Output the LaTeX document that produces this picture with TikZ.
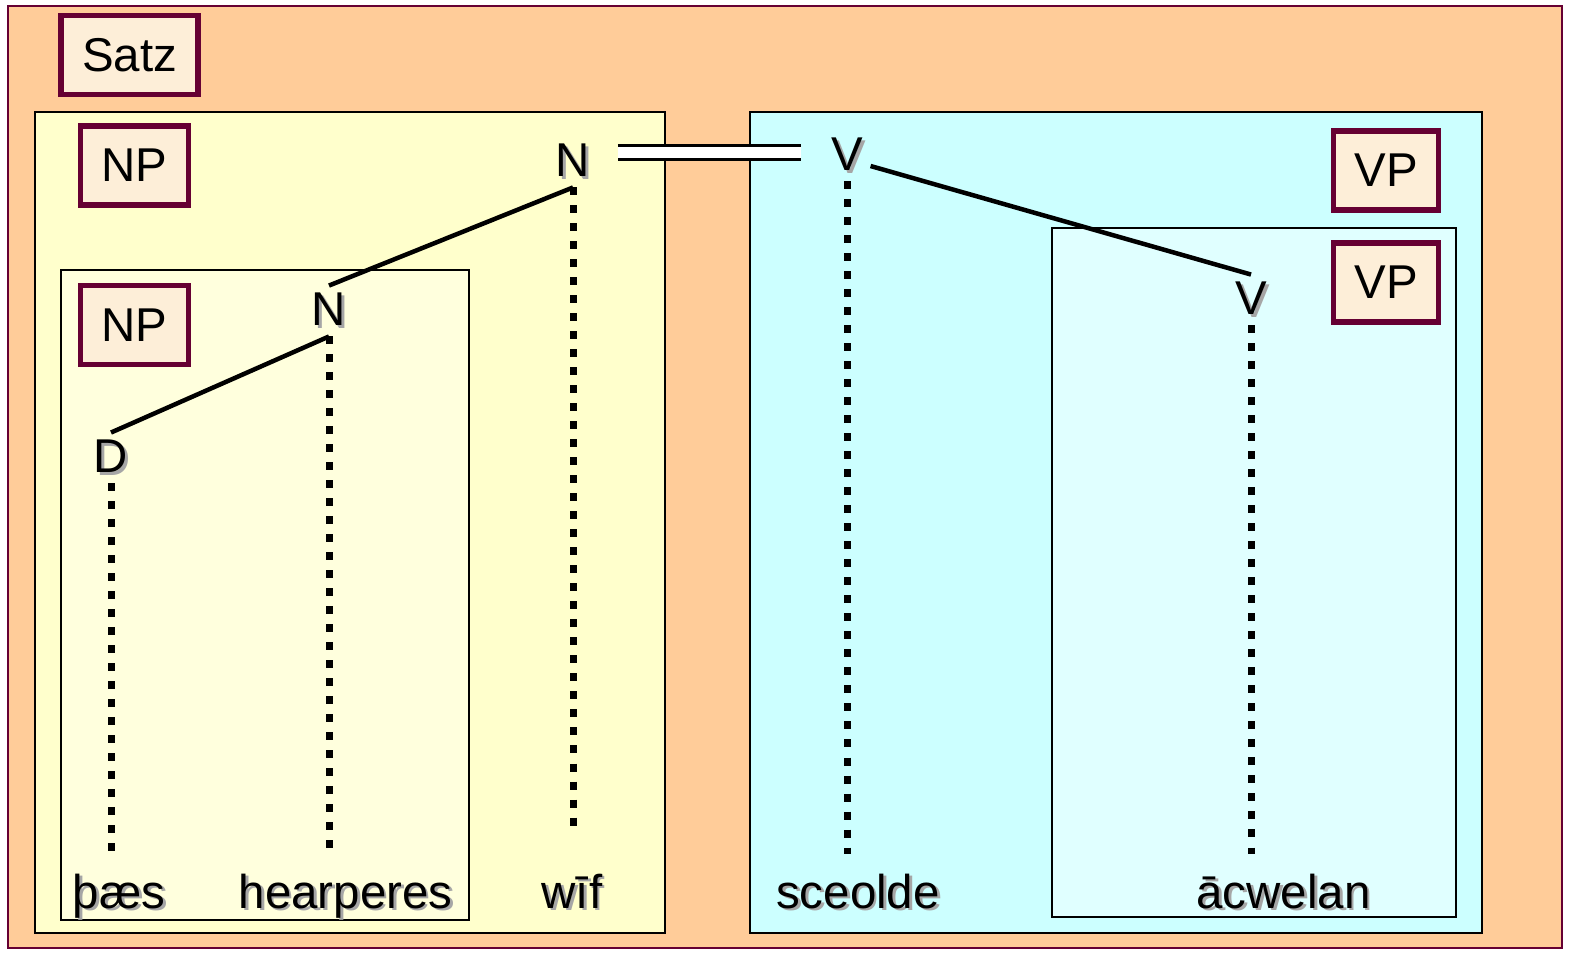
\documentclass[tikz,border=0pt]{standalone}
\usepackage{fontspec}
\setmainfont{Liberation Sans}
\usetikzlibrary{positioning,calc}

\definecolor{satzbg}{RGB}{255,204,153}
\definecolor{maroon}{RGB}{102,0,51}
\definecolor{tagfill}{RGB}{253,238,216}
\definecolor{npouter}{RGB}{255,255,204}
\definecolor{npinner}{RGB}{255,255,221}
\definecolor{vpouter}{RGB}{204,255,255}
\definecolor{vpinner}{RGB}{224,255,255}

\newcommand{\shad}[1]{\makebox[0pt][l]{\kern0.8pt\raisebox{-0.8pt}{\textcolor{black!35}{#1}}}#1}

\begin{document}
\begin{tikzpicture}[
    font=\fontsize{13.5}{16}\selectfont,
    phrase/.style={draw=black, line width=0.025cm},
    tag/.style={draw=maroon, fill=tagfill, line width=0.055cm, minimum height=0.79cm, inner xsep=0.21cm},
    cat/.style={inner sep=2pt},
    word/.style={anchor=base, inner sep=3pt},
    branch/.style={draw, line width=0.045cm},
    proj/.style={draw, line width=0.07cm, dash pattern=on 0.08cm off 0.1cm, shorten >=0.08cm},
    agree/.style={draw, line width=0.03cm, double distance=0.11cm}
]

\useasboundingbox (0,0) rectangle (15.77,-9.55);

% Phrase boxes
\filldraw[draw=maroon, fill=satzbg, line width=0.02cm] (0.08,-0.06) rectangle (15.62,-9.48);
\filldraw[phrase, fill=npouter] (0.35,-1.12) rectangle (6.65,-9.33);
\filldraw[phrase, fill=npinner] (0.61,-2.70) rectangle (4.69,-9.20);
\filldraw[phrase, fill=vpouter] (7.50,-1.12) rectangle (14.82,-9.33);
\filldraw[phrase, fill=vpinner] (10.52,-2.28) rectangle (14.56,-9.17);

% Phrase labels
\node[tag] (satz) at (1.295,-0.55) {Satz};
\node[tag] (np1) at (1.345,-1.655) {NP};
\node[tag] (np2) at (1.345,-3.25) {NP};
\node[tag] (vp1) at (13.86,-1.705) {VP};
\node[tag] (vp2) at (13.86,-2.825) {VP};

% Categories
\node[cat] (Ntop) at (5.73,-1.62) {\shad{N}};
\node[cat] (Nmid) at (3.29,-3.11) {\shad{N}};
\node[cat] (D) at (1.11,-4.58) {\shad{D}};
\node[cat] (Vtop) at (8.47,-1.56) {\shad{V}};
\node[cat] (Vlow) at (12.51,-3.00) {\shad{V}};

% Words
\node[word] (paes) at (1.19,-9.08) {\shad{þæs}};
\node[word] (hearp) at (3.455,-9.08) {\shad{hearperes}};
\node[word] (wif) at (5.72,-9.08) {\shad{wīf}};
\node[word] (sceolde) at (8.58,-9.08) {\shad{sceolde}};
\node[word] (acwelan) at (12.835,-9.08) {\shad{ācwelan}};

% Branches
\draw[branch] (Ntop.south) -- (Nmid.north);
\draw[branch] (Nmid.south) -- (D.north);
\draw[branch] ([yshift=-1mm]Vtop.east) -- (Vlow.north);

% Projection lines
\draw[proj] (D.south) -- (D.south |- paes.north);
\draw[proj] (Nmid.south) -- (Nmid.south |- hearp.north);
\draw[proj, shorten >=0.35cm] (Ntop.south) -- (Ntop.south |- wif.north);
\draw[proj] (Vtop.south) -- (Vtop.south |- sceolde.north);
\draw[proj] (Vlow.south) -- (Vlow.south |- acwelan.north);

% Agreement
\draw[agree] ($(Ntop.east)+(0.2,0.1)$) -- ($(Ntop.east -| Vtop.west)+(-0.22,0.1)$);

\end{tikzpicture}
\end{document}
